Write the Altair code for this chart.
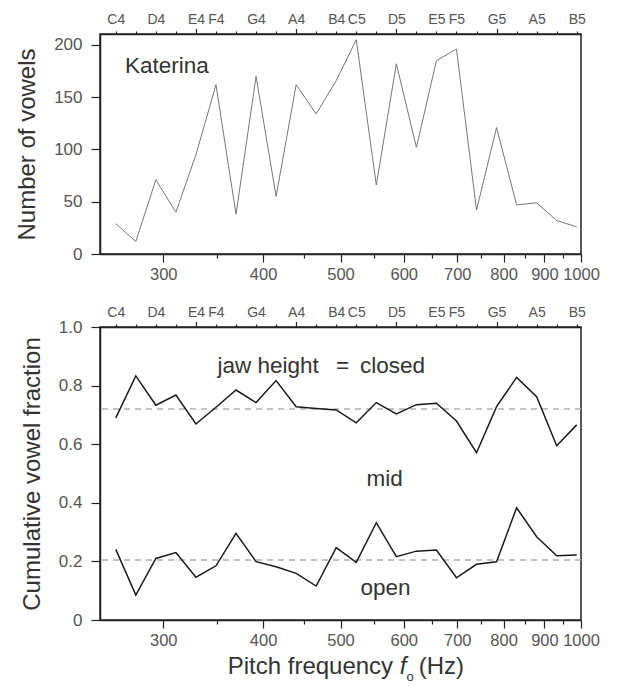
import json
import altair as alt
import pandas as pd

# ---------------- data ----------------
note_names = ["C4", "C#4", "D4", "D#4", "E4", "F4", "F#4", "G4", "G#4", "A4", "A#4", "B4",
              "C5", "C#5", "D5", "D#5", "E5", "F5", "F#5", "G5", "G#5", "A5", "A#5", "B5"]
note_freqs = [261.63, 277.18, 293.66, 311.13, 329.63, 349.23, 369.99, 392.00, 415.30, 440.00,
              466.16, 493.88, 523.25, 554.37, 587.33, 622.25, 659.25, 698.46, 739.99, 783.99,
              830.61, 880.00, 932.33, 987.77]
vowel_counts = [29, 12, 71, 40, 95, 162, 38, 170, 55, 162, 134, 166,
                205, 66, 182, 102, 185, 196, 42, 121, 47, 49, 32, 26]
closed_fraction = [0.690, 0.833, 0.733, 0.768, 0.669, 0.726, 0.785, 0.742, 0.817, 0.728, 0.722, 0.717,
                   0.673, 0.742, 0.703, 0.735, 0.740, 0.679, 0.571, 0.728, 0.828, 0.762, 0.595, 0.666]
open_fraction = [0.241, 0.085, 0.210, 0.230, 0.146, 0.185, 0.296, 0.199, 0.182, 0.159, 0.116, 0.247,
                 0.197, 0.332, 0.216, 0.235, 0.239, 0.144, 0.190, 0.199, 0.383, 0.284, 0.219, 0.222]
closed_mean = 0.72
open_mean = 0.205
hz_ticks = [300, 350, 400, 450, 500, 550, 600, 650, 700, 750, 800, 850, 900, 950, 1000]
count_ticks = [0, 50, 100, 150, 200]
fraction_ticks = [0, 0.1, 0.2, 0.3, 0.4, 0.5, 0.6, 0.7, 0.8, 0.9, 1.0]
long_note_ticks = ["E4", "A4", "D5", "G5"]
speaker = "Katerina"

# ---------------- helpers ----------------
FONT = "Liberation Sans"
W = 481
H_TOP = 220
H_BOT = 293
ANN = 22.5

df = pd.DataFrame({"freq": note_freqs, "note": note_names, "count": vowel_counts,
                   "closed": closed_fraction, "open": open_fraction})

xscale = alt.Scale(type="log", domain=[250, 1000], nice=False, zero=False)

label_list = json.dumps([n if "#" not in n else "" for n in note_names]).replace('"', "'")
idx_expr = "round(12*log(datum.value/261.63)/log(2))"
note_label_expr = f"{label_list}[{idx_expr}]"
long_test = f"indexof({json.dumps(long_note_ticks)}, {json.dumps(note_names)}[{idx_expr}]) >= 0".replace('"', "'")

bottom_axis = alt.Axis(
    orient="bottom", values=hz_ticks, title=None,
    labelExpr="datum.value % 100 == 0 ? datum.value : ''",
    tickSize={"condition": {"test": "datum.value % 100 == 0", "value": 8}, "value": 4},
    labelPadding=4.5, labelFontSize=16.5,
)
top_axis = alt.Axis(
    orient="top", values=note_freqs, title=None,
    labelExpr=note_label_expr,
    tickSize={"condition": {"test": long_test, "value": 5.5}, "value": 3},
    labelPadding={"condition": {"test": long_test, "value": 2}, "value": 4.5},
    labelFontSize=14,
)


def top_axis_layer():
    return alt.Chart(df).mark_point(opacity=0).encode(
        x=alt.X("freq:Q", scale=xscale, axis=top_axis)
    )


def label(text, px, py, size=ANN, style="normal"):
    return alt.Chart(pd.DataFrame({"t": [text]})).mark_text(
        align="left", baseline="alphabetic", font=FONT, fontSize=size, fontStyle=style, color="#333"
    ).encode(text="t:N", x=alt.value(px), y=alt.value(py))


# ---------------- top panel ----------------
count_line = alt.Chart(df).mark_line(color="#777", strokeWidth=1).encode(
    x=alt.X("freq:Q", scale=xscale, axis=bottom_axis),
    y=alt.Y("count:Q", scale=alt.Scale(domain=[0, 210.5], nice=False, zero=True),
            axis=alt.Axis(values=count_ticks, title="Number of vowels", tickSize=9,
                          labelPadding=9, titlePadding=14, labelFontSize=17)),
)

top = alt.layer(count_line, label(speaker, 25, 39.3), top_axis_layer()).resolve_axis(
    x="independent"
).properties(width=W, height=H_TOP)

# ---------------- bottom panel ----------------
frac_scale = alt.Scale(domain=[0, 1], nice=False)
frac_lines = alt.Chart(df).transform_fold(["closed", "open"], as_=["kind", "frac"]).mark_line(
    color="#1a1a1a", strokeWidth=1.5
).encode(
    x=alt.X("freq:Q", scale=xscale, axis=bottom_axis),
    y=alt.Y("frac:Q", scale=frac_scale,
            axis=alt.Axis(values=fraction_ticks, title="Cumulative vowel fraction", tickSize=9,
                          labelPadding=9, titlePadding=14, labelFontSize=17,
                          labelExpr="datum.value == 0 ? '0' : (round(datum.value*10) % 2 == 0 ? format(datum.value, '.1f') : '')")),
    detail="kind:N",
)
means = alt.Chart(pd.DataFrame({"m": [closed_mean, open_mean]})).mark_rule(
    color="#b0b0b0", strokeDash=[6, 5], strokeWidth=1.5
).encode(y=alt.Y("m:Q", scale=frac_scale))

bottom = alt.layer(
    means, frac_lines,
    label("jaw height", 117.5, 45.5), label("=", 236, 45.5), label("closed", 260, 45.5),
    label("mid", 266.5, 158.5), label("open", 260.5, 268),
    label("Pitch frequency", 127.7, 347, 24), label("f", 299.8, 347, 24, "italic"),
    label("o", 306.5, 354, 13), label("(Hz)", 318.7, 347, 24),
    top_axis_layer(),
).resolve_axis(x="independent").properties(width=W, height=H_BOT)

chart = alt.vconcat(top, bottom, spacing=20).properties(
    padding={"left": 6, "top": 3, "right": 5, "bottom": 2}
).configure_axis(
    labelFont=FONT, labelColor="#555", tickColor="#222", tickWidth=1.2,
    domainColor="#222", domainWidth=1.5, titleFont=FONT, titleFontSize=24, titleColor="#333",
    titleFontWeight="normal", grid=False, labelOverlap=False, labelFlush=False, labelBound=False,
).configure_view(stroke="#222", strokeWidth=1.5)

chart.save("out.html", embed_options={"renderer": "svg", "actions": False})
